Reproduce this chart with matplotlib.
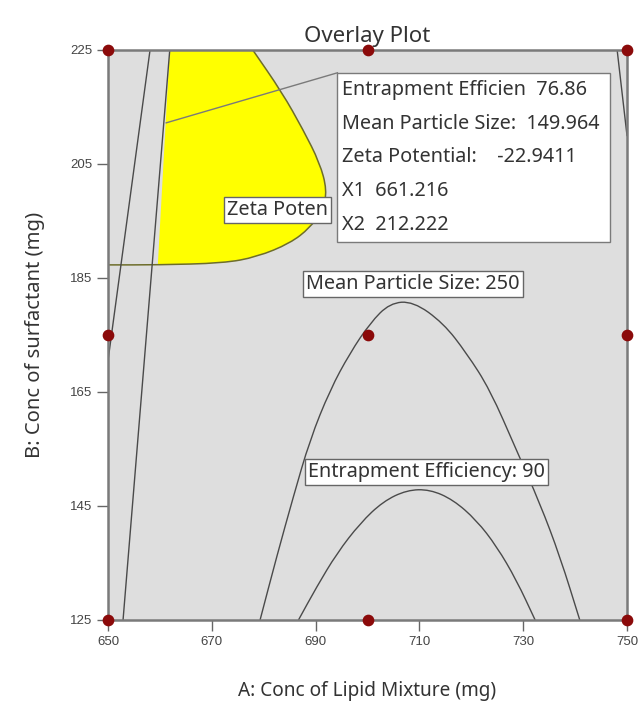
import matplotlib
matplotlib.use("Agg")
import matplotlib.pyplot as plt
from matplotlib.patches import Polygon, PathPatch
from matplotlib.path import Path

# design points (factorial + centre)
design_a = [650, 700, 750, 650, 700, 750, 650, 700, 750]
design_b = [225, 225, 225, 175, 175, 175, 125, 125, 125]

# zeta potential contour bounding the feasible (yellow) window
zeta_a = [650.0, 659.6, 672.2, 678.7, 685.1, 688.9, 691.4, 692.2, 690.8, 687.6, 683.5, 677.9]
zeta_b = [187.3, 187.3, 187.6, 188.7, 191.1, 193.8, 196.9, 200.4, 205.2, 211.0, 217.6, 225.0]

# boundary constraints (near-vertical lines)
edge1_a = [658.1, 650.0]
edge1_b = [225.0, 170.5]
edge2_a = [661.9, 652.9]
edge2_b = [225.0, 125.0]
edge3_a = [748.1, 750.0]
edge3_b = [225.0, 210.0]

# mean particle size = 250 contour
mps_a = [679.3, 682.5, 685.7, 688.9, 692.8, 696.6, 700.5, 704.3, 708.8, 714.6,
         719.1, 723.6, 728.7, 733.2, 737.1, 740.9]
mps_b = [125.0, 136.1, 146.6, 156.6, 165.4, 171.8, 177.1, 180.6, 180.9, 177.1,
         171.8, 165.4, 154.8, 145.5, 136.1, 125.0]

# entrapment efficiency = 90 contour
ee_a = [686.7, 690.2, 694.1, 698.6, 703.0, 707.6, 712.0, 716.5, 721.0, 724.9, 728.7, 732.3]
ee_b = [125.0, 130.8, 136.7, 142.0, 145.8, 147.8, 147.9, 146.1, 142.5, 137.9, 132.0, 125.0]

# flagged optimum
opt_a, opt_b = 661.216, 212.222
opt_lines = ["Entrapment Efficien  76.86",
             "Mean Particle Size:  149.964",
             "Zeta Potential:    -22.9411",
             f"X1  {opt_a}",
             f"X2  {opt_b}"]

x_ticks = [650, 670, 690, 710, 730, 750]
y_ticks = [125, 145, 165, 185, 205, 225]

FONT = ["Noto Sans", "DejaVu Sans"]
NARROW = ["Liberation Sans Narrow", "Liberation Sans", "DejaVu Sans"]
LINE = "#4a4a4a"
TXT = "#333333"
FS = 14.3


def smooth_path(xs, ys):
    """Quadratic-Bezier path through the midpoints, using the points as controls."""
    pts = list(zip(xs, ys))
    if len(pts) < 3:
        return Path(pts)
    mid = lambda p, q: ((p[0] + q[0]) / 2, (p[1] + q[1]) / 2)
    verts = [pts[0], mid(pts[0], pts[1])]
    codes = [Path.MOVETO, Path.LINETO]
    for i in range(1, len(pts) - 1):
        verts += [pts[i], mid(pts[i], pts[i + 1])]
        codes += [Path.CURVE3, Path.CURVE3]
    verts.append(pts[-1])
    codes.append(Path.LINETO)
    return Path(verts, codes)


def curve(ax, xs, ys, color, lw=1.0, z=2):
    ax.add_patch(PathPatch(smooth_path(xs, ys), facecolor="none", edgecolor=color,
                           lw=lw, zorder=z))


fig = plt.figure(figsize=(6.44, 7.06), dpi=100)
ax = fig.add_axes([108 / 644, 1 - 620 / 706, 519 / 644, 570 / 706])
ax.set_facecolor("#dedede")
ax.set_xlim(650, 750)
ax.set_ylim(125, 225)

# feasible region: zeta contour closed against the left constraint
zp = smooth_path(zeta_a[1:], zeta_b[1:])
fill_verts = [tuple(v) for v in zp.to_polygons(closed_only=False)[0]]
fill_verts += [(edge2_a[0], edge2_b[0])]
ax.add_patch(Polygon(fill_verts, closed=True, facecolor="#ffff00", edgecolor="none", zorder=1))

curve(ax, zeta_a, zeta_b, "#6d6d2a", lw=1.1)
for xa, yb in [(edge1_a, edge1_b), (edge2_a, edge2_b), (edge3_a, edge3_b)]:
    ax.plot(xa, yb, color=LINE, lw=1.0, zorder=2)
curve(ax, mps_a, mps_b, LINE)
curve(ax, ee_a, ee_b, LINE)

box = dict(boxstyle="square,pad=0.15", facecolor="white", edgecolor="#666666", lw=1.0)
ax.text(672.9, 196.9, "Zeta Poten", fontsize=FS, family=FONT, color=TXT,
        va="center", ha="left", bbox=box, zorder=4)
ax.text(708.8, 183.9, "Mean Particle Size: 250", fontsize=FS, family=FONT, color=TXT,
        va="center", ha="center", bbox=box, zorder=4)
ax.text(711.3, 151.0, "Entrapment Efficiency: 90", fontsize=FS, family=FONT, color=TXT,
        va="center", ha="center", bbox=box, zorder=4)

# optimum flag: leader line and tooltip box
tip_x0, tip_y0, tip_x1, tip_y1 = 694.2, 221.0, 746.7, 191.3
ax.plot([opt_a, tip_x0], [opt_b, tip_y0], color="#7a7a7a", lw=1.0, zorder=3)
ax.add_patch(plt.Rectangle((tip_x0, tip_y1), tip_x1 - tip_x0, tip_y0 - tip_y1,
                           facecolor="white", edgecolor="#7a7a7a", lw=1.0, zorder=5))
step = (tip_y0 - tip_y1) / len(opt_lines)
for i, line in enumerate(opt_lines):
    ax.text(tip_x0 + 0.8, tip_y0 - (i + 0.5) * step, line, fontsize=FS, family=FONT,
            color=TXT, va="center", ha="left", zorder=6)

ax.scatter(design_a, design_b, s=55, color="#8b0a0a", zorder=7, clip_on=False)

for side in ax.spines.values():
    side.set_color("#7a7a7a")
    side.set_linewidth(1.8)
ax.set_xticks(x_ticks)
ax.set_yticks(y_ticks)
ax.tick_params(direction="out", length=8, width=1.0, color="#666666",
               labelcolor="#444444", labelsize=9.5)
for lab in ax.get_xticklabels() + ax.get_yticklabels():
    lab.set_family(NARROW)

ax.set_title("Overlay Plot", fontsize=16, family=FONT, color=TXT, pad=6)
ax.set_xlabel("A: Conc of Lipid Mixture (mg)", fontsize=13.7, family=FONT,
              color=TXT, labelpad=24)
ax.set_ylabel("B: Conc of surfactant (mg)", fontsize=14.5, family=FONT,
              color=TXT, labelpad=18)

fig.savefig("out.png", dpi=100)
